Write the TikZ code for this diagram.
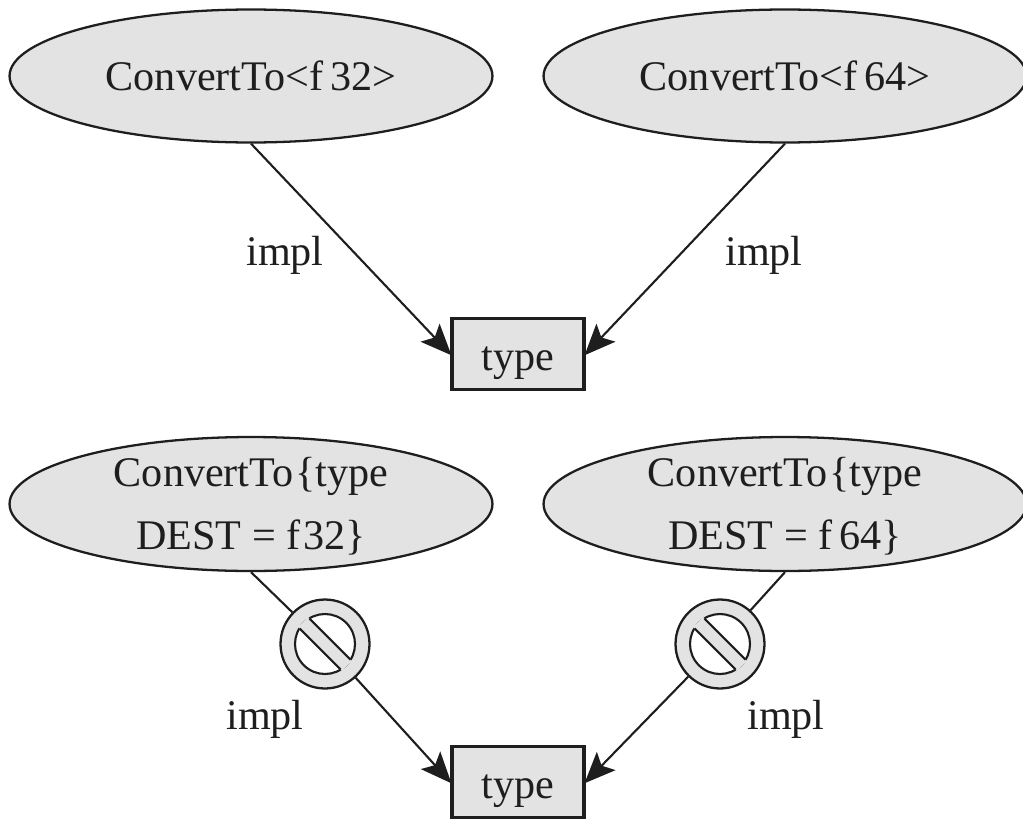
\documentclass[tikz,border=0pt]{standalone}
\usepackage{fontspec}
\setmainfont{Liberation Serif}
\definecolor{ggray}{HTML}{E3E3E3}
\definecolor{iink}{HTML}{1E1E1E}
\usetikzlibrary{arrows.meta}
\usetikzlibrary{shapes.geometric}

\begin{document}
\begin{tikzpicture}[
    	x=.02cm,y=-.02cm,
    	font=\fontsize{24}{36}\selectfont,
    	text=iink,
    	concept/.style={ellipse,draw=iink,line width=1.3pt,fill=ggray,inner sep=0pt,minimum width=9.66cm,minimum height=2.66cm,align=center},
    	typebox/.style={rectangle,draw=iink,line width=2pt,fill=ggray,inner sep=0pt,minimum width=2.64cm,minimum height=1.42cm,text height=18.5pt,text depth=0pt},
    	nosign/.style={circle,draw=iink,line width=1.3pt,fill=ggray,inner sep=0pt,minimum size=1.78cm},
    	-->/.style={-{Stealth[length=.62cm,width=.52cm,inset=.13cm]},iink,line width=1.2pt,shorten >=-1pt},
    ]
    \path[use as bounding box] (0,0) rectangle (1023,821);
    % upper half
    \node[concept] (convf32) at (251,76) {ConvertTo<f\,32>};
    \node[concept] (convf64) at (785,76) {ConvertTo<f\,64>};
    \node[typebox] (typeup) at (518,354) {type};
    \draw [-->] (convf32.south) -- (typeup.west);
    \draw [-->] (convf64.south) -- (typeup.east);
    % lower half
    \node[concept,inner ysep=-4pt,minimum height=2.68cm] (reqf32) at (251,504) {\rule{0pt}{19.5pt}ConvertTo\kern1pt\{type\\DEST = f\kern1.5pt 32\}};
    \node[concept,inner ysep=-4pt,minimum height=2.68cm] (reqf64) at (785,504) {\rule{0pt}{19.5pt}ConvertTo\kern1pt\{type\\DEST = f\,64\}};
    \node[typebox] (typelow) at (518,782) {type};
    \node[nosign] (nof32) at (325,644) {};
    \node[nosign] (nof64) at (720,644) {};
    \draw[iink,line width=1.2pt] (reqf32.south) -- (nof32);
    \draw[iink,line width=1.2pt] (reqf64.south) -- (nof64);
    \draw [-->] (nof32) -- (typelow.west);
    \draw [-->] (nof64) -- (typelow.east);
    \foreach \n in {nof32, nof64} {
    \begin{scope}[shift={(\n.center)},rotate=-45]
    	\draw[iink,line width=1.2pt,fill=white] (0,0) circle (.6cm);
    	\fill[ggray] (-31,-7) rectangle (31,7);
    	\draw[iink,line width=1.2pt] (-29,-7) -- (29,-7);
    	\draw[iink,line width=1.2pt] (-29,7) -- (29,7);
    \end{scope}
    }
    \node (implupl) at (285,255) {impl};
    \node (implupr) at (764,255) {impl};
    \node (impllowl) at (265,719) {impl};
    \node (impllowr) at (786,719) {impl};
\end{tikzpicture}
\end{document}
